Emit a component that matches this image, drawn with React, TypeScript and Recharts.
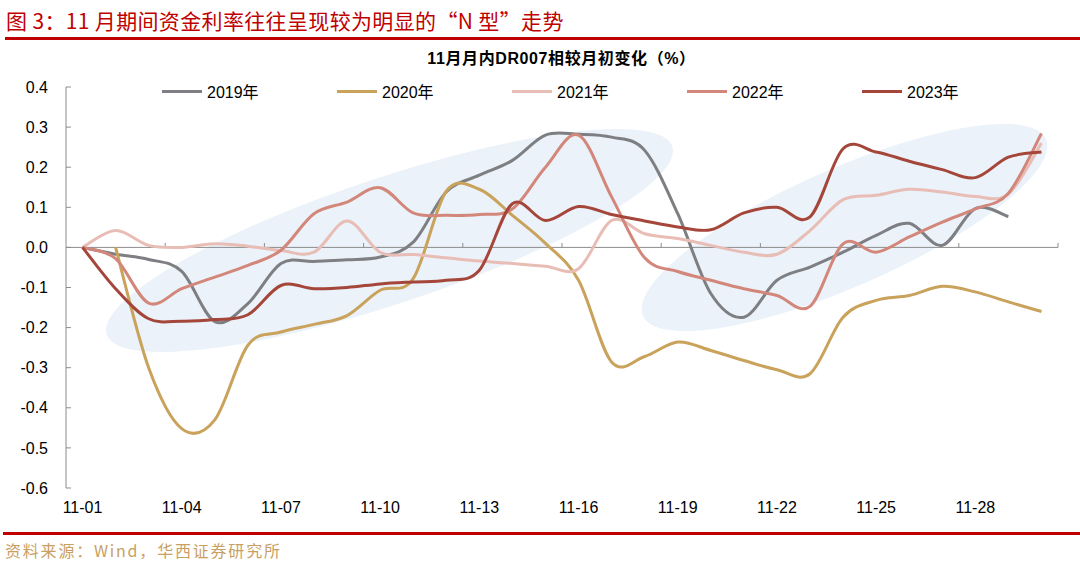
import React from "react";
import { Line, LineChart, ReferenceLine, XAxis, YAxis } from "recharts";

// 11月 day labels (category axis)
const dates = [
  "11-01", "11-02", "11-03", "11-04", "11-05", "11-06", "11-07", "11-08", "11-09", "11-10",
  "11-11", "11-12", "11-13", "11-14", "11-15", "11-16", "11-17", "11-18", "11-19", "11-20",
  "11-21", "11-22", "11-23", "11-24", "11-25", "11-26", "11-27", "11-28", "11-29", "11-30",
];

// DR007 change vs. start of month, %
const y2019 = [
  0, -0.017, -0.03, -0.06, -0.185, -0.14, -0.04, -0.035, -0.031, -0.024,
  0.013, 0.138, 0.18, 0.217, 0.28, 0.282, 0.275, 0.242, 0.084, -0.115,
  -0.174, -0.082, -0.049, -0.012, 0.03, 0.06, 0.005, 0.097, 0.077, null,
];
const y2020 = [
  null, 0, -0.3, -0.452, -0.43, -0.244, -0.211, -0.192, -0.17, -0.107,
  -0.078, 0.14, 0.145, 0.08, 0.01, -0.082, -0.286, -0.272, -0.236, -0.257,
  -0.282, -0.305, -0.315, -0.174, -0.132, -0.12, -0.097, -0.111, -0.136, -0.16,
];
const y2021 = [
  0, 0.042, 0.005, 0, 0.009, 0.003, -0.008, -0.012, 0.066, -0.012,
  -0.018, -0.026, -0.034, -0.04, -0.047, -0.053, 0.067, 0.034, 0.022, 0.005,
  -0.012, -0.017, 0.042, 0.119, 0.13, 0.145, 0.138, 0.127, 0.133, 0.26,
];
const y2022 = [
  0, -0.028, -0.139, -0.103, -0.074, -0.045, -0.007, 0.084, 0.113, 0.149,
  0.086, 0.08, 0.082, 0.096, 0.2, 0.28, 0.126, -0.026, -0.06, -0.082,
  -0.103, -0.12, -0.147, 0.009, -0.012, 0.026, 0.063, 0.096, 0.135, 0.284,
];
const y2023 = [
  0, -0.103, -0.178, -0.184, -0.18, -0.168, -0.095, -0.103, -0.1, -0.091,
  -0.086, -0.082, -0.057, 0.109, 0.067, 0.102, 0.082, 0.066, 0.051, 0.044,
  0.086, 0.1, 0.076, 0.246, 0.238, 0.215, 0.194, 0.174, 0.225, 0.238,
];

const seriesNames = ["2019年", "2020年", "2021年", "2022年", "2023年"];
const seriesKeys = ["y2019", "y2020", "y2021", "y2022", "y2023"];
const yTicks = [0.4, 0.3, 0.2, 0.1, 0, -0.1, -0.2, -0.3, -0.4, -0.5, -0.6];
const xLabelIdx = [0, 3, 6, 9, 12, 15, 18, 21, 24, 27];
const xTickMarks = [2.5, 5.5, 8.5, 11.5, 14.5, 17.5, 20.5, 23.5, 26.5, 29.5];

const COLORS = ["#7e7f83", "#c9a25b", "#e8bdb5", "#d3877b", "#a5463b"];
const RED = "#c00000";
const FONT = '"Liberation Sans", Arial, "Noto Sans CJK SC", sans-serif';

const data = dates.map((d, i) => ({
  i,
  d,
  y2019: y2019[i],
  y2020: y2020[i],
  y2021: y2021[i],
  y2022: y2022[i],
  y2023: y2023[i],
}));

// Excel-style smoothed line (Catmull-Rom through the points), as a d3 curve factory.
function excelSmooth(context: any) {
  let pts: number[][] = [];
  return {
    areaStart() {},
    areaEnd() {},
    lineStart() {
      pts = [];
    },
    point(x: number, y: number) {
      pts.push([+x, +y]);
    },
    lineEnd() {
      const n = pts.length;
      if (!n) return;
      context.moveTo(pts[0][0], pts[0][1]);
      for (let k = 0; k < n - 1; k++) {
        const p0 = pts[Math.max(k - 1, 0)];
        const p1 = pts[k];
        const p2 = pts[k + 1];
        const p3 = pts[Math.min(k + 2, n - 1)];
        context.bezierCurveTo(
          p1[0] + (p2[0] - p0[0]) / 6,
          p1[1] + (p2[1] - p0[1]) / 6,
          p2[0] - (p3[0] - p1[0]) / 6,
          p2[1] - (p3[1] - p1[1]) / 6,
          p2[0],
          p2[1]
        );
      }
    },
  };
}

export default function App() {
  return (
    <div style={{ position: "relative", width: 1080, height: 576, background: "#fff", fontFamily: FONT, overflow: "hidden" }}>
      <style>{"body{margin:0}"}</style>

      <div style={{ position: "absolute", left: 6, top: 5, fontSize: 21, letterSpacing: 0.35, color: RED, fontFamily: '"Noto Sans CJK SC", sans-serif', whiteSpace: "nowrap" }}>
        图 3：11 月期间资金利率往往呈现较为明显的“N 型”走势
      </div>
      <div style={{ position: "absolute", left: 5, right: 0, top: 37, height: 3, background: RED }} />

      {/* highlight ellipses behind the lines */}
      <svg width={1080} height={576} style={{ position: "absolute", left: 0, top: 0 }}>
        <ellipse cx={389.5} cy={240.5} rx={298} ry={63} transform="rotate(-18.4 389.5 240.5)" fill="#ebf2f9" />
        <ellipse cx={844.5} cy={227.5} rx={220} ry={59} transform="rotate(-23.7 844.5 227.5)" fill="#ebf2f9" />
      </svg>

      <div style={{ position: "absolute", left: 0, top: 0 }}>
        <LineChart width={1080} height={576} data={data} margin={{ top: 87, right: 22, bottom: 58, left: 6 }}>
          <XAxis
            dataKey="i"
            type="number"
            domain={[-0.5, 29.5]}
            ticks={xLabelIdx}
            tickFormatter={(v: number) => dates[v]}
            axisLine={false}
            tickLine={false}
            tickMargin={8}
            tick={{ fontSize: 16, fill: "#000", fontFamily: FONT }}
            allowDataOverflow
          />
          <YAxis
            type="number"
            domain={[-0.6, 0.4]}
            ticks={yTicks}
            tickFormatter={(v: number) => v.toFixed(1)}
            axisLine={{ stroke: "#8c8c8c" }}
            tickLine={false}
            tickMargin={12}
            tick={{ fontSize: 16, fill: "#000", fontFamily: FONT }}
            allowDataOverflow
          />
          <ReferenceLine y={0} stroke="#8c8c8c" strokeWidth={1} />
          {xTickMarks.map((t) => (
            <ReferenceLine key={"xt" + t} segment={[{ x: t, y: 0 }, { x: t, y: 0.011 }]} stroke="#8c8c8c" />
          ))}
          {yTicks.map((t) => (
            <ReferenceLine key={"yt" + t} segment={[{ x: -0.5, y: t }, { x: -0.35, y: t }]} stroke="#8c8c8c" />
          ))}
          {seriesKeys.map((k, idx) => (
            <Line
              key={k}
              dataKey={k}
              name={seriesNames[idx]}
              type={excelSmooth as any}
              stroke={COLORS[idx]}
              strokeWidth={3}
              dot={false}
              activeDot={false}
              isAnimationActive={false}
            />
          ))}
        </LineChart>
      </div>

      <div style={{ position: "absolute", left: 0, width: 1123, top: 45, textAlign: "center", fontSize: 16, letterSpacing: 0.6, fontWeight: "bold", color: "#000", fontFamily: FONT }}>
        11月月内DR007相较月初变化（%）
      </div>

      <div style={{ position: "absolute", left: 162, top: 79, display: "flex" }}>
        {seriesNames.map((n, idx) => (
          <div key={n} style={{ width: 175, display: "flex", alignItems: "center", fontSize: 16, color: "#000" }}>
            <span style={{ display: "inline-block", width: 40, height: 3, background: COLORS[idx], marginRight: 5 }} />
            <span>{n}</span>
          </div>
        ))}
      </div>

      <div style={{ position: "absolute", left: 3, right: 0, top: 532, height: 3, background: RED }} />
      <div style={{ position: "absolute", left: 5, top: 538, fontSize: 16, letterSpacing: 1.8, color: "#c9a063", fontFamily: '"Noto Sans CJK SC", sans-serif', whiteSpace: "nowrap" }}>
        资料来源：Wind，华西证券研究所
      </div>
    </div>
  );
}
